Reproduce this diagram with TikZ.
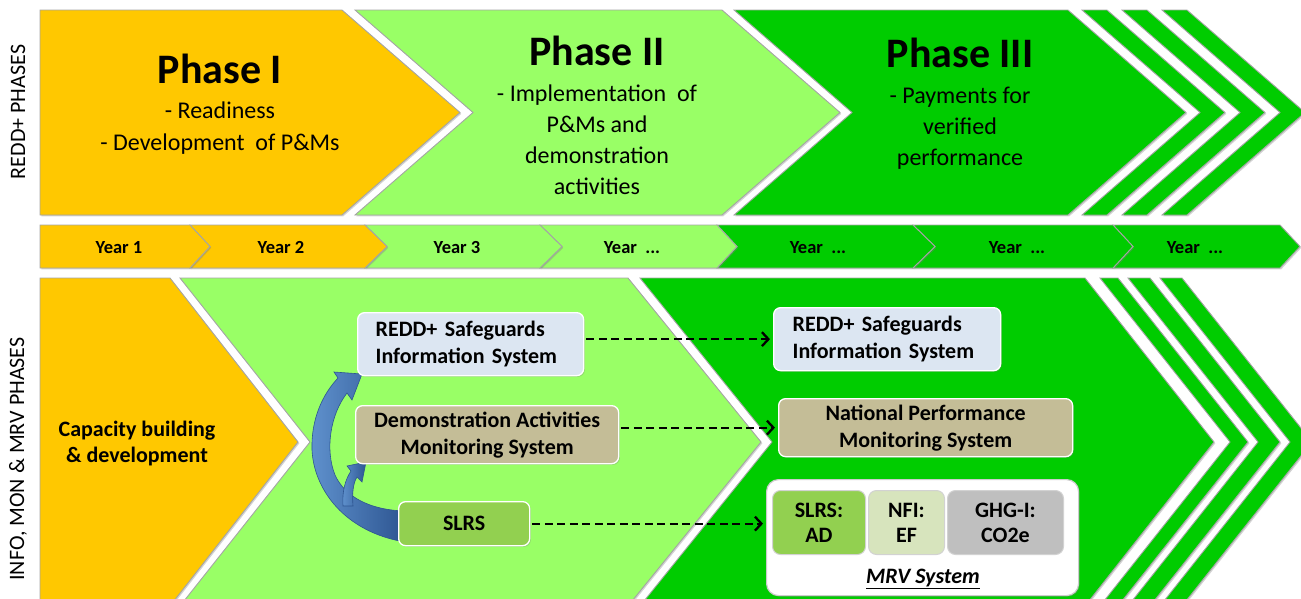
\documentclass[tikz,border=0pt]{standalone}
\usepackage{fontspec}
\setmainfont{Carlito}
\usetikzlibrary{arrows.meta,shadows}
\definecolor{phyellow}{RGB}{255,200,0}
\definecolor{phlight}{RGB}{153,255,102}
\definecolor{phdark}{RGB}{0,204,0}
\definecolor{boxblue}{RGB}{220,230,242}
\definecolor{boxtan}{RGB}{196,189,151}
\definecolor{boxgreen}{RGB}{146,208,80}
\definecolor{boxpale}{RGB}{215,228,189}
\definecolor{boxgray}{RGB}{191,191,191}
\definecolor{arrblue}{RGB}{79,129,189}
\definecolor{arrlight}{RGB}{95,145,205}
\definecolor{arrdark}{RGB}{45,85,145}
\definecolor{edgegray}{RGB}{165,165,165}
\newcommand{\fsz}[2]{\fontsize{#1}{#2}\selectfont}
\tikzset{
  phaseshape/.style={draw=edgegray, line width=0.9pt, line join=miter,
    drop shadow={opacity=0.35, shadow xshift=1.3pt, shadow yshift=-1.3pt}},
  titletext/.style={font=\fsz{42}{50}\bfseries, inner sep=0pt, anchor=base},
  subtext/.style={font=\fsz{24}{31}, inner sep=0pt, anchor=base},
  yeartext/.style={font=\fsz{18.5}{22}\bfseries, inner sep=0pt, anchor=base},
  sidelabel/.style={font=\fsz{22}{26}, rotate=90, inner sep=0pt},
  infobox/.style={rounded corners=7pt, draw=white, line width=1.3pt,
    font=\fsz{22}{27}\bfseries, inner sep=0pt, anchor=north west,
    drop shadow={opacity=0.3, shadow xshift=1.2pt, shadow yshift=-1.2pt}},
  mrvpart/.style={rounded corners=8pt, draw=gray!35, line width=1pt,
    font=\fsz{22}{25}\bfseries, inner sep=0pt, anchor=north west, align=center},
  dasharrow/.style={draw=black, line width=2.3pt, dash pattern=on 8pt off 4.5pt,
    -{Straight Barb[length=6.5pt,width=14pt]}, shorten <=2pt, shorten >=3pt},
  bluearrow/.style={left color=arrlight, right color=arrdark, draw=arrdark, line width=0.6pt}
}
\begin{document}
\begin{tikzpicture}[x=1pt,y=-1pt]
\useasboundingbox (0,0) rectangle (1301,598);
\clip (0,0) rectangle (1301,598);

% ---------- top row: REDD+ phases ----------
\path[phaseshape, fill=phdark] (1162,10) -- (1187,10) -- (1305,112.5) -- (1187,215) -- (1162,215) -- (1280,112.5) -- cycle;
\path[phaseshape, fill=phdark] (1122,10) -- (1147,10) -- (1265,112.5) -- (1147,215) -- (1122,215) -- (1240,112.5) -- cycle;
\path[phaseshape, fill=phdark] (1082,10) -- (1107,10) -- (1225,112.5) -- (1107,215) -- (1082,215) -- (1200,112.5) -- cycle;
\path[phaseshape, fill=phdark] (734,10) -- (1068,10) -- (1186,112.5) -- (1068,215) -- (734,215) -- (852,112.5) -- cycle;
\path[phaseshape, fill=phlight] (355,10) -- (722,10) -- (840,112.5) -- (722,215) -- (355,215) -- (473,112.5) -- cycle;
\path[phaseshape, fill=phyellow] (40,10) -- (342,10) -- (460,112.5) -- (342,215) -- (40,215) -- cycle;

\node[titletext] (p1title) at (220,83) {Phase I};
\node[subtext] (p1a) at (220,118) {- Readiness};
\node[subtext] (p1b) at (220,150) {- Development\ \ of P\&Ms};

\node[titletext] (p2title) at (597,65) {Phase II};
\node[subtext] (p2a) at (597,101) {- Implementation\ \ of};
\node[subtext] (p2b) at (597,132) {P\&Ms and};
\node[subtext] (p2c) at (597,163) {demonstration};
\node[subtext] (p2d) at (597,194) {activities};

\node[titletext] (p3title) at (960,67) {Phase III};
\node[subtext] (p3a) at (960,103) {- Payments for};
\node[subtext] (p3b) at (960,134) {verified};
\node[subtext] (p3c) at (960,165) {performance};

% ---------- year row ----------
\path[phaseshape, fill=phdark] (1113,225) -- (1280,225) -- (1300,246.5) -- (1280,268) -- (1113,268) -- (1133,246.5) -- cycle;
\path[phaseshape, fill=phdark] (913,225) -- (1113,225) -- (1133,246.5) -- (1113,268) -- (913,268) -- (935,246.5) -- cycle;
\path[phaseshape, fill=phdark] (717,225) -- (913,225) -- (935,246.5) -- (913,268) -- (717,268) -- (737,246.5) -- cycle;
\path[phaseshape, fill=phlight] (540,225) -- (717,225) -- (737,246.5) -- (717,268) -- (540,268) -- (562,246.5) -- cycle;
\path[phaseshape, fill=phlight] (365,225) -- (540,225) -- (562,246.5) -- (540,268) -- (365,268) -- (387,246.5) -- cycle;
\path[phaseshape, fill=phyellow] (190,225) -- (365,225) -- (387,246.5) -- (365,268) -- (190,268) -- (210,246.5) -- cycle;
\path[phaseshape, fill=phyellow] (40,225) -- (190,225) -- (210,246.5) -- (190,268) -- (40,268) -- cycle;

\node[yeartext] (y1) at (119,253) {Year 1};
\node[yeartext] (y2) at (281,253) {Year 2};
\node[yeartext] (y3) at (457,253) {Year 3};
\node[yeartext] (y4) at (632,253) {Year\ \ ...};
\node[yeartext] (y5) at (818,253) {Year\ \ ...};
\node[yeartext] (y6) at (1017,253) {Year\ \ ...};
\node[yeartext] (y7) at (1195,253) {Year\ \ ...};

% ---------- bottom section ----------
\path[phaseshape, fill=phdark] (1160,278) -- (1182,278) -- (1312,442) -- (1182,606) -- (1160,606) -- (1290,442) -- cycle;
\path[phaseshape, fill=phdark] (1128,278) -- (1150,278) -- (1280,442) -- (1150,606) -- (1128,606) -- (1258,442) -- cycle;
\path[phaseshape, fill=phdark] (1100,278) -- (1118,278) -- (1248,442) -- (1118,606) -- (1100,606) -- (1230,442) -- cycle;
\path[phaseshape, fill=phdark] (640,278) -- (1085,278) -- (1214,442) -- (1085,606) -- (640,606) -- (772,442) -- cycle;
\path[phaseshape, fill=phlight] (180,278) -- (628,278) -- (761,442) -- (628,606) -- (180,606) -- (310,442) -- cycle;
\path[phaseshape, fill=phyellow] (40,278) -- (170,278) -- (298,442) -- (170,606) -- (40,606) -- cycle;

\node[font=\fsz{22}{26}\bfseries, align=center, inner sep=0pt] (capacity) at (137,444) {Capacity building\\\& development};

% side labels
\node[sidelabel] (lblphases) at (18,112) {REDD+ PHASES};
\node[sidelabel] (lblinfo) at (18,459) {INFO, MON \& MRV PHASES};

% blue curved arrows
\path[bluearrow] (405,511) .. controls (370,510) and (345,497) .. (335,475)
  .. controls (325,450) and (330,415) .. (347,393) -- (352,400) -- (362,374)
  -- (334,372) -- (338,378) .. controls (322,395) and (311,420) .. (312,450)
  .. controls (314,490) and (345,532) .. (405,542) -- cycle;
\path[bluearrow] (343,506) .. controls (342,492) and (345,480) .. (351,471)
  -- (347,466) -- (366,462) -- (362,482) -- (357,477)
  .. controls (353,483) and (352,494) .. (353,506) -- cycle;

% left boxes
\node[infobox, fill=boxblue, text width=190pt, inner xsep=18pt, align=left,
  minimum height=63pt] (lsafe) at (357,312) {REDD+ Safeguards\\Information System};
\node[infobox, fill=boxtan, align=center, minimum width=263pt,
  minimum height=58pt] (demo) at (355,405) {Demonstration Activities\\Monitoring System};
\node[infobox, fill=boxgreen, align=center, minimum width=131pt,
  minimum height=44pt] (slrs) at (398,501) {SLRS};

% right boxes
\node[infobox, fill=boxblue, text width=189pt, inner xsep=19pt, align=left,
  minimum height=63pt] (rsafe) at (773,307) {REDD+ Safeguards\\Information System};
\node[infobox, fill=boxtan, align=center, minimum width=294pt,
  minimum height=58pt] (natl) at (778,398) {National Performance\\Monitoring System};
\node[rounded corners=12pt, draw=gray!40, line width=1.2pt, fill=white, anchor=north west,
  minimum width=312pt, minimum height=116pt, inner sep=0pt,
  drop shadow={opacity=0.3, shadow xshift=1.2pt, shadow yshift=-1.2pt}] (mrv) at (766,479) {};
\node[mrvpart, fill=boxgreen, minimum width=93pt, minimum height=64pt] (slrsad) at (772,490) {SLRS:\\AD};
\node[mrvpart, fill=boxpale, minimum width=76pt, minimum height=64pt] (nfi) at (868,490) {NFI:\\EF};
\node[mrvpart, fill=boxgray, minimum width=116pt, minimum height=64pt] (ghg) at (947,490) {GHG-I:\\CO2e};
\node[font=\fsz{22}{26}\bfseries\itshape, inner sep=0pt, anchor=base] (mrvlbl) at (923,583) {\underline{MRV System}};

% dashed connectors
\draw[dasharrow] (lsafe.east |- rsafe.west) -- (rsafe.west);
\draw[dasharrow] (demo.east |- natl.west) -- (natl.west);
\draw[dasharrow] (slrs.east) -- (slrs.east -| mrv.west);
\end{tikzpicture}
\end{document}
